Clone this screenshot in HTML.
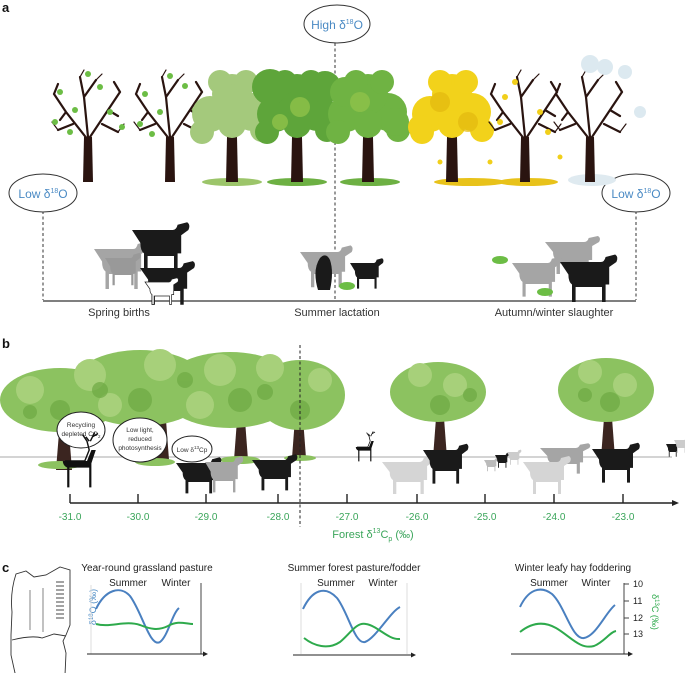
<!DOCTYPE html>
<html><head><meta charset="utf-8"><style>
html,body{margin:0;padding:0;background:#fff}
svg{display:block}
text{font-family:"Liberation Sans",sans-serif}
</style></head><body>
<svg width="685" height="673" viewBox="0 0 685 673" xmlns="http://www.w3.org/2000/svg">
<defs>
<g id="bare" stroke="#2a1410" fill="none" stroke-linecap="round">
 <path d="M-5,0 L-4,-45 L4,-45 L5,0 Z" fill="#2a1410" stroke="none"/>
 <path d="M0,-42 L-22,-70 L-34,-88 M-22,-70 L-28,-62 M0,-42 L20,-72 L32,-90 M20,-72 L30,-66 M0,-45 L-4,-85 L-8,-105 M-4,-85 L8,-102 M-15,-58 L-30,-52 M14,-58 L30,-50 M-34,-88 L-30,-98 M32,-90 L26,-100" stroke-width="2.2"/>
 <path d="M-30,-52 L-36,-60 M30,-50 L36,-58 M-8,-105 L-4,-112 M8,-102 L14,-108" stroke-width="1.2"/>
</g>
<g id="leafy">
 <path d="M-6,0 L-5,-45 L5,-45 L6,0 Z" fill="#2a1410"/>
 <circle cx="-22" cy="-68" r="18"/><circle cx="20" cy="-70" r="19"/><circle cx="0" cy="-88" r="20"/>
 <circle cx="-30" cy="-50" r="12"/><circle cx="30" cy="-52" r="12"/><circle cx="-12" cy="-100" r="12"/><circle cx="14" cy="-100" r="12"/><circle cx="0" cy="-58" r="14"/>
</g>
<g id="cow"><path d="M0,0 h34 q3,0 4,-4 l8,-2 q3,2 1,6 l-6,4 v14 l-3,0 v14 h-3 v-12 h-22 v12 h-3 v-14 q-3,-2 -3,-8 z"/></g>
<g id="deer"><path d="M0,0 h18 l4,-10 l-2,-8 l-4,-6 m6,6 l-3,-4 m4,4 l4,-8 m-2,4 l5,-3" stroke="#111" stroke-width="1.3" fill="none"/><path d="M-2,0 h22 l4,-10 l4,0 l-4,12 v2 v20 h-2 v-18 h-18 v18 h-2 v-18 q-4,-2 -4,-6z" fill="#111"/></g>
</defs>

<!-- Panel a -->
<text x="2" y="12" font-size="13" font-weight="bold" fill="#111">a</text>
<line x1="335" y1="43" x2="335" y2="300" stroke="#333" stroke-dasharray="3,2.5" stroke-width="1"/>
<line x1="43" y1="211" x2="43" y2="300" stroke="#333" stroke-dasharray="3,2.5" stroke-width="1"/>
<line x1="636" y1="211" x2="636" y2="300" stroke="#333" stroke-dasharray="3,2.5" stroke-width="1"/>
<line x1="43" y1="301" x2="636" y2="301" stroke="#333" stroke-width="1.2"/>
<ellipse cx="337" cy="24" rx="33" ry="19" fill="#fff" stroke="#333" stroke-width="1"/>
<text x="337" y="29" font-size="12" fill="#4a8ac4" text-anchor="middle">High δ<tspan font-size="7" dy="-5">18</tspan><tspan dy="5">O</tspan></text>
<ellipse cx="43" cy="193" rx="34" ry="19" fill="#fff" stroke="#333" stroke-width="1"/>
<text x="43" y="198" font-size="12" fill="#4a8ac4" text-anchor="middle">Low δ<tspan font-size="7" dy="-5">18</tspan><tspan dy="5">O</tspan></text>
<ellipse cx="636" cy="193" rx="34" ry="19" fill="#fff" stroke="#333" stroke-width="1"/>
<text x="636" y="198" font-size="12" fill="#4a8ac4" text-anchor="middle">Low δ<tspan font-size="7" dy="-5">18</tspan><tspan dy="5">O</tspan></text>

<!-- trees a -->
<g transform="translate(0,182)">
 <ellipse cx="470" cy="0" rx="36" ry="4" fill="#e8c21a"/><ellipse cx="528" cy="0" rx="30" ry="4" fill="#e8c21a"/>
 <ellipse cx="232" cy="0" rx="30" ry="4" fill="#9cc56a"/><ellipse cx="297" cy="0" rx="30" ry="4" fill="#6db043"/><ellipse cx="370" cy="0" rx="30" ry="4" fill="#6db043"/>
 <ellipse cx="592" cy="-2" rx="24" ry="6" fill="#dfeaf0"/>
 <use href="#bare" x="88" y="0"/><use href="#bare" x="170" y="0"/>
 <g fill="#6cbd45">
  <circle cx="60" cy="-90" r="3"/><circle cx="75" cy="-72" r="3"/><circle cx="100" cy="-95" r="3"/><circle cx="110" cy="-70" r="3"/><circle cx="88" cy="-108" r="3"/><circle cx="55" cy="-60" r="3"/><circle cx="122" cy="-55" r="3"/><circle cx="70" cy="-50" r="3"/>
  <circle cx="145" cy="-88" r="3"/><circle cx="160" cy="-70" r="3"/><circle cx="185" cy="-96" r="3"/><circle cx="195" cy="-72" r="3"/><circle cx="170" cy="-106" r="3"/><circle cx="140" cy="-58" r="3"/><circle cx="205" cy="-55" r="3"/><circle cx="152" cy="-48" r="3"/>
 </g>
 <g fill="#a4c97c"><use href="#leafy" x="232" y="0"/></g>
 <g fill="#5ea53a"><use href="#leafy" x="297" y="0"/><circle cx="270" cy="-95" r="18"/><circle cx="325" cy="-95" r="16"/></g>
 <g fill="#6fb343"><use href="#leafy" x="368" y="0"/><circle cx="345" cy="-90" r="15"/><circle cx="395" cy="-60" r="14"/></g>
 <g fill="#8fc24a" opacity="0.8"><circle cx="300" cy="-75" r="10"/><circle cx="360" cy="-80" r="10"/><circle cx="280" cy="-60" r="8"/></g>
 <g fill="#f2d21b"><use href="#leafy" x="452" y="0"/><circle cx="420" cy="-55" r="12"/></g>
 <g fill="#e3b90f" opacity="0.7"><circle cx="440" cy="-80" r="10"/><circle cx="468" cy="-60" r="10"/></g>
 <use href="#bare" x="525" y="0"/><use href="#bare" x="590" y="0"/>
 <g fill="#f1cf1a"><circle cx="505" cy="-85" r="3"/><circle cx="540" cy="-70" r="3"/><circle cx="515" cy="-100" r="3"/><circle cx="548" cy="-50" r="3"/><circle cx="500" cy="-60" r="3"/><circle cx="490" cy="-20" r="2.5"/><circle cx="560" cy="-25" r="2.5"/><circle cx="440" cy="-20" r="2.5"/></g>
 <g fill="#dce9f0"><circle cx="590" cy="-118" r="9"/><circle cx="605" cy="-115" r="8"/><circle cx="625" cy="-110" r="7"/><circle cx="640" cy="-70" r="6"/></g>
</g>

<!-- animals a -->
<g fill="#a5a5a5"><use href="#cow" transform="translate(94,249) scale(1.15,1.25)"/></g>
<g fill="#1a1a1a"><use href="#cow" transform="translate(132,230) scale(1.2,1.3)"/></g>
<g fill="#999"><use href="#cow" transform="translate(105,258) scale(0.75,0.85)"/></g>
<g fill="#1a1a1a"><use href="#cow" transform="translate(140,268) scale(1.15,1.15)"/></g>
<g fill="#fff" stroke="#222" stroke-width="1"><use href="#cow" transform="translate(145,282) scale(0.7,0.7)"/></g>
<g fill="#a5a5a5"><use href="#cow" transform="translate(300,252) scale(1.1,1.1)"/></g>
<path d="M318,290 q-6,-20 2,-32 q6,-6 10,2 q4,12 0,30z" fill="#1a1a1a"/>
<g fill="#1a1a1a"><use href="#cow" transform="translate(350,263) scale(0.7,0.8)"/></g>
<ellipse cx="347" cy="286" rx="8" ry="4" fill="#6cbd45"/>
<g fill="#a5a5a5"><use href="#cow" transform="translate(545,242) scale(1.15,1.0)"/></g>
<g fill="#a5a5a5"><use href="#cow" transform="translate(512,263) scale(1.05,1.05)"/></g>
<g fill="#1a1a1a"><use href="#cow" transform="translate(560,262) scale(1.2,1.25)"/></g>
<ellipse cx="500" cy="260" rx="8" ry="4" fill="#6cbd45"/><ellipse cx="545" cy="292" rx="8" ry="4" fill="#6cbd45"/>

<text x="119" y="316" font-size="11" fill="#333" text-anchor="middle">Spring births</text>
<text x="337" y="316" font-size="11" fill="#333" text-anchor="middle">Summer lactation</text>
<text x="554" y="316" font-size="11" fill="#333" text-anchor="middle">Autumn/winter slaughter</text>

<!-- Panel b -->
<text x="2" y="348" font-size="13" font-weight="bold" fill="#111">b</text>
<line x1="0" y1="457" x2="672" y2="457" stroke="#bbb" stroke-width="1.2"/>
<g fill="#3b2520">
 <path d="M56,470 l4,-50 h8 l4,50z"/><path d="M155,460 l3,-40 h8 l3,40z"/><path d="M234,460 l3,-40 h8 l3,40z"/><path d="M292,458 l3,-40 h8 l3,40z"/>
 <path d="M433,458 l3,-40 h8 l3,40z"/><path d="M601,458 l3,-40 h8 l3,40z"/>
</g>
<g fill="#8cc260">
 <ellipse cx="60" cy="400" rx="60" ry="32"/><ellipse cx="140" cy="388" rx="70" ry="38"/><ellipse cx="230" cy="390" rx="70" ry="38"/><ellipse cx="300" cy="395" rx="45" ry="35"/>
 <ellipse cx="438" cy="392" rx="48" ry="30"/><ellipse cx="606" cy="390" rx="48" ry="32"/>
</g>
<g fill="#a7d07a">
 <circle cx="30" cy="390" r="14"/><circle cx="90" cy="375" r="16"/><circle cx="160" cy="365" r="16"/><circle cx="220" cy="370" r="16"/><circle cx="270" cy="368" r="14"/><circle cx="320" cy="380" r="12"/><circle cx="420" cy="375" r="12"/><circle cx="455" cy="385" r="12"/><circle cx="590" cy="372" r="12"/><circle cx="625" cy="385" r="12"/><circle cx="110" cy="405" r="12"/><circle cx="200" cy="405" r="14"/>
</g>
<g fill="#6da943" opacity="0.7"><circle cx="60" cy="410" r="10"/><circle cx="140" cy="400" r="12"/><circle cx="240" cy="400" r="12"/><circle cx="300" cy="410" r="10"/><circle cx="440" cy="405" r="10"/><circle cx="610" cy="402" r="10"/><circle cx="185" cy="380" r="8"/><circle cx="100" cy="390" r="8"/><circle cx="265" cy="392" r="8"/><circle cx="30" cy="412" r="7"/><circle cx="470" cy="395" r="7"/><circle cx="585" cy="395" r="7"/></g>
<g fill="#8cc260"><ellipse cx="60" cy="465" rx="22" ry="4"/><ellipse cx="155" cy="462" rx="20" ry="4"/><ellipse cx="240" cy="460" rx="20" ry="4"/><ellipse cx="300" cy="458" rx="16" ry="3"/></g>
<line x1="300" y1="345" x2="300" y2="527" stroke="#222" stroke-dasharray="3,2.5" stroke-width="1"/>

<ellipse cx="81" cy="430" rx="24" ry="18" fill="#fff" stroke="#222" stroke-width="1"/>
<text x="81" y="427" font-size="6.5" fill="#333" text-anchor="middle">Recycling</text>
<text x="81" y="436" font-size="6.5" fill="#333" text-anchor="middle">depleted CO<tspan font-size="4.5" dy="2">2</tspan></text>
<ellipse cx="140" cy="440" rx="27" ry="22" fill="#fff" stroke="#222" stroke-width="1"/>
<text x="140" y="432" font-size="6.5" fill="#333" text-anchor="middle">Low light,</text>
<text x="140" y="441" font-size="6.5" fill="#333" text-anchor="middle">reduced</text>
<text x="140" y="450" font-size="6.5" fill="#333" text-anchor="middle">photosynthesis</text>
<ellipse cx="192" cy="449" rx="20" ry="13" fill="#fff" stroke="#222" stroke-width="1"/>
<text x="192" y="452" font-size="6.5" fill="#333" text-anchor="middle">Low δ<tspan font-size="4.5" dy="-3">13</tspan><tspan dy="3">Cp</tspan></text>

<use href="#deer" transform="translate(65,461) scale(1.1,1.1)"/>
<use href="#deer" transform="translate(357,447) scale(0.6,0.6)"/>
<g fill="#1a1a1a"><use href="#cow" transform="translate(176,463) scale(0.95,0.95)"/></g>
<g fill="#a5a5a5"><use href="#cow" transform="translate(205,462) scale(0.8,0.95)"/></g>
<g fill="#1a1a1a"><use href="#cow" transform="translate(252,460) scale(0.95,0.95)"/></g>
<g fill="#d5d5d5"><use href="#cow" transform="translate(382,462) scale(1.1,1.0)"/></g>
<g fill="#1a1a1a"><use href="#cow" transform="translate(423,450) scale(0.95,1.05)"/></g>
<g fill="#bbb"><use href="#cow" transform="translate(484,460) scale(0.3,0.35)"/></g>
<g fill="#1a1a1a"><use href="#cow" transform="translate(495,455) scale(0.3,0.4)"/></g>
<g fill="#ccc"><use href="#cow" transform="translate(507,452) scale(0.3,0.4)"/></g>
<g fill="#a5a5a5"><use href="#cow" transform="translate(540,448) scale(1.05,0.8)"/></g>
<g fill="#d5d5d5"><use href="#cow" transform="translate(523,462) scale(1.0,1.0)"/></g>
<g fill="#1a1a1a"><use href="#cow" transform="translate(592,449) scale(1.0,1.05)"/></g>
<g fill="#1a1a1a"><use href="#cow" transform="translate(666,444) scale(0.28,0.4)"/></g>
<g fill="#ccc"><use href="#cow" transform="translate(674,440) scale(0.3,0.4)"/></g>

<line x1="70" y1="503" x2="674" y2="503" stroke="#222" stroke-width="1.4"/>
<path d="M679,503 l-7,-3 v6z" fill="#222"/>
<g stroke="#222" stroke-width="1.4">
 <line x1="70" y1="494" x2="70" y2="503"/><line x1="138" y1="494" x2="138" y2="503"/><line x1="206" y1="494" x2="206" y2="503"/><line x1="278" y1="494" x2="278" y2="503"/><line x1="347" y1="494" x2="347" y2="503"/><line x1="417" y1="494" x2="417" y2="503"/><line x1="485" y1="494" x2="485" y2="503"/><line x1="554" y1="494" x2="554" y2="503"/><line x1="623" y1="494" x2="623" y2="503"/>
</g>
<g font-size="10" fill="#3aa55a" text-anchor="middle">
 <text x="70" y="520">-31.0</text><text x="138" y="520">-30.0</text><text x="206" y="520">-29.0</text><text x="278" y="520">-28.0</text><text x="347" y="520">-27.0</text><text x="417" y="520">-26.0</text><text x="485" y="520">-25.0</text><text x="554" y="520">-24.0</text><text x="623" y="520">-23.0</text>
 <text x="373" y="538" font-size="11">Forest δ<tspan font-size="7" dy="-5">13</tspan><tspan dy="5">C</tspan><tspan font-size="7" dy="3">p</tspan><tspan dy="-3"> (‰)</tspan></text>
</g>

<!-- Panel c -->
<text x="2" y="572" font-size="13" font-weight="bold" fill="#111">c</text>
<path d="M12,612 q-2,-20 4,-38 l10,-3 l8,6 l12,-2 l14,-8 l10,3 l0,55 l-4,10 l-3,6 l3,12 l-1,22 l-12,3 l-10,-4 l-20,5 l-8,-6 l-4,-18 l0,-20z M12,640 q20,-5 30,-2 l12,-4 l12,2" fill="none" stroke="#333" stroke-width="0.9"/>
<path d="M30,590 v40 M43,588 v44" stroke="#333" stroke-width="0.6"/>
<g stroke="#333" stroke-width="0.9"><line x1="56" y1="582" x2="64" y2="582"/><line x1="56" y1="586" x2="64" y2="586"/><line x1="56" y1="590" x2="64" y2="590"/><line x1="56" y1="594" x2="64" y2="594"/><line x1="56" y1="598" x2="64" y2="598"/><line x1="56" y1="602" x2="64" y2="602"/><line x1="56" y1="606" x2="64" y2="606"/><line x1="56" y1="610" x2="64" y2="610"/><line x1="56" y1="614" x2="64" y2="614"/><line x1="56" y1="618" x2="64" y2="618"/></g>

<g font-size="10" fill="#222" text-anchor="middle">
 <text x="147" y="571">Year-round grassland pasture</text>
 <text x="354" y="571">Summer forest pasture/fodder</text>
 <text x="573" y="571">Winter leafy hay foddering</text>
 <text x="128" y="586">Summer</text><text x="176" y="586">Winter</text>
 <text x="336" y="586">Summer</text><text x="383" y="586">Winter</text>
 <text x="549" y="586">Summer</text><text x="596" y="586">Winter</text>
</g>
<text transform="translate(96,607) rotate(-90)" font-size="9" fill="#4a8ac4" text-anchor="middle">δ<tspan font-size="6" dy="-3">18</tspan><tspan dy="3">O (‰)</tspan></text>
<line x1="91" y1="585" x2="91" y2="654" stroke="#ddd" stroke-width="1"/>
<line x1="201" y1="583" x2="201" y2="654" stroke="#444" stroke-width="1"/>
<line x1="87" y1="654" x2="205" y2="654" stroke="#222" stroke-width="1"/><path d="M208,654 l-5,-2.5 v5z" fill="#222"/>
<path d="M96,609 C105,590 120,585 130,596 C142,612 150,648 160,642 C168,636 172,614 179,608" fill="none" stroke="#4a80c0" stroke-width="2"/>
<path d="M96,624 C110,628 125,620 140,625 C150,629 158,631 168,626 C178,620 186,624 193,624" fill="none" stroke="#2eaa4c" stroke-width="2"/>

<line x1="301" y1="583" x2="301" y2="654" stroke="#ddd" stroke-width="1"/>
<line x1="407" y1="583" x2="407" y2="654" stroke="#ddd" stroke-width="1"/>
<line x1="293" y1="655" x2="413" y2="655" stroke="#222" stroke-width="1"/><path d="M416,655 l-5,-2.5 v5z" fill="#222"/>
<path d="M303,609 C312,590 325,585 337,598 C348,612 355,645 365,642 C376,638 390,612 400,607" fill="none" stroke="#4a80c0" stroke-width="2"/>
<path d="M304,638 C314,646 328,650 340,642 C350,634 356,622 366,624 C378,626 388,640 400,639" fill="none" stroke="#2eaa4c" stroke-width="2"/>

<line x1="624" y1="583" x2="624" y2="654" stroke="#444" stroke-width="1"/>
<g stroke="#444" stroke-width="1"><line x1="624" y1="584" x2="629" y2="584"/><line x1="624" y1="601" x2="629" y2="601"/><line x1="624" y1="618" x2="629" y2="618"/><line x1="624" y1="634" x2="629" y2="634"/></g>
<g font-size="9" fill="#222"><text x="633" y="587">10</text><text x="633" y="604">11</text><text x="633" y="621">12</text><text x="633" y="637">13</text></g>
<text transform="translate(652,612) rotate(90)" font-size="9" fill="#2eaa4c" text-anchor="middle">δ<tspan font-size="6" dy="-3">13</tspan><tspan dy="3">C (‰)</tspan></text>
<line x1="511" y1="654" x2="628" y2="654" stroke="#222" stroke-width="1"/><path d="M633,654 l-5,-2.5 v5z" fill="#222"/>
<path d="M520,607 C528,590 540,585 552,594 C565,606 572,640 584,638 C596,636 606,612 615,605" fill="none" stroke="#4a80c0" stroke-width="2"/>
<path d="M520,632 C530,624 542,620 556,628 C570,636 580,650 594,646 C604,642 610,632 616,631" fill="none" stroke="#2eaa4c" stroke-width="2"/>
</svg>
</body></html>
